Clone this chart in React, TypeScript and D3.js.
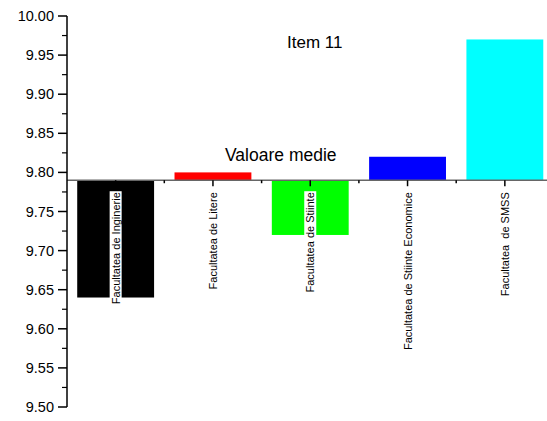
import React, { useEffect, useRef } from 'react';
import * as d3 from 'd3';

const categories = [
  'Facultatea de Inginerie',
  'Facultatea de Litere',
  'Facultatea de Stiinte',
  'Facultatea de Stiinte Economice',
  'Facultatea  de SMSS',
];
const values = [9.64, 9.8, 9.72, 9.82, 9.97];
const colors = ['#000000', '#ff0000', '#00ff00', '#0000ff', '#00ffff'];
const baselineValue = 9.79;
const yTicks = [9.5, 9.55, 9.6, 9.65, 9.7, 9.75, 9.8, 9.85, 9.9, 9.95, 10.0];

export default function App() {
  const svgRef = useRef<SVGSVGElement>(null);

  useEffect(() => {
    if (!svgRef.current) return;
    const svg = d3.select(svgRef.current);
    svg.selectAll('*').remove();

    const left = 67;
    const x = d3.scaleBand<string>().domain(categories).range([left, left + 5 * 97.3]).paddingInner(0.21).paddingOuter(0.105);
    const y = d3.scaleLinear().domain([9.5, 10]).range([407, 16]);
    const y0 = y(baselineValue);
    const font = 'Arial, "Liberation Sans", sans-serif';

    // bars relative to the mean line
    svg.append('g')
      .selectAll('rect')
      .data(values)
      .enter()
      .append('rect')
      .attr('x', (_, i) => x(categories[i]) || 0)
      .attr('y', d => Math.min(y(d), y0))
      .attr('width', x.bandwidth())
      .attr('height', d => Math.abs(y(d) - y0))
      .attr('fill', (_, i) => colors[i]);

    // baseline (category axis)
    svg.append('line')
      .attr('x1', left).attr('x2', 547)
      .attr('y1', y0).attr('y2', y0)
      .attr('stroke', '#666').attr('stroke-width', 1.5);

    const step = x.step();
    categories.forEach((c, i) => {
      const cx = (x(c) || 0) + x.bandwidth() / 2;
      svg.append('line')
        .attr('x1', cx).attr('x2', cx).attr('y1', y0).attr('y2', y0 + 6)
        .attr('stroke', '#000').attr('stroke-width', 1.5);
      if (i > 0) {
        const bx = cx - step / 2;
        svg.append('line')
          .attr('x1', bx).attr('x2', bx).attr('y1', y0).attr('y2', y0 + 3)
          .attr('stroke', '#000').attr('stroke-width', 1.5);
      }
      const g = svg.append('g').attr('transform', `translate(${cx + 4},${y0 + 12}) rotate(-90)`);
      const bg = g.append('rect').attr('fill', '#fff');
      const t = g.append('text')
        .attr('text-anchor', 'end')
        .attr('font-family', font)
        .attr('font-size', 11)
        .style('white-space', 'pre')
        .text(c);
      const bb = (t.node() as SVGTextElement).getBBox();
      bg.attr('x', bb.x - 1).attr('y', bb.y).attr('width', bb.width + 2).attr('height', bb.height);
    });

    // y axis
    svg.append('line')
      .attr('x1', left).attr('x2', left).attr('y1', y(10)).attr('y2', y(9.5))
      .attr('stroke', '#000').attr('stroke-width', 1.5);
    yTicks.forEach(v => {
      svg.append('line')
        .attr('x1', left - 9).attr('x2', left).attr('y1', y(v)).attr('y2', y(v))
        .attr('stroke', '#000').attr('stroke-width', 1.5);
      svg.append('text')
        .attr('x', left - 13).attr('y', y(v) + 5)
        .attr('text-anchor', 'end')
        .attr('font-family', font).attr('font-size', 14.5)
        .text(d3.format('.2f')(v));
    });
    yTicks.slice(0, -1).forEach(v => {
      const m = y(v + 0.025);
      svg.append('line')
        .attr('x1', left - 5).attr('x2', left).attr('y1', m).attr('y2', m)
        .attr('stroke', '#000').attr('stroke-width', 1.2);
    });

    svg.append('text')
      .attr('x', 287).attr('y', 48)
      .attr('font-family', font).attr('font-size', 17)
      .text('Item 11');
    svg.append('text')
      .attr('x', 225).attr('y', 161)
      .attr('font-family', font).attr('font-size', 17.5)
      .text('Valoare medie');
  }, []);

  return (
    <svg
      ref={svgRef}
      width={547}
      height={421}
      style={{ position: 'absolute', left: 0, top: 0, background: '#fff' }}
    />
  );
}
